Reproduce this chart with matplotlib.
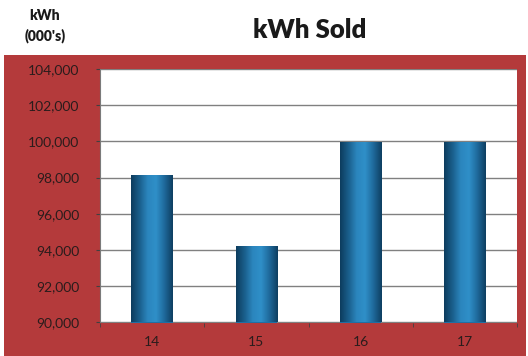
import matplotlib
matplotlib.use("Agg")
import matplotlib.pyplot as plt
import numpy as np
from matplotlib.colors import LinearSegmentedColormap
from matplotlib.patches import Rectangle

years = ["14", "15", "16", "17"]
kwh_sold = [98170, 94200, 99950, 99950]
y_ticks = [90000, 92000, 94000, 96000, 98000, 100000, 102000, 104000]

red = "#b43a3b"
text_col = "#2a1c1c"
plt.rcParams['font.family'] = ['Lato', 'DejaVu Sans']

fig = plt.figure(figsize=(5.28, 3.56), dpi=100)
fig.patch.set_facecolor("white")

# red frame behind the plot
fig.add_artist(Rectangle((4 / 528, 0), 522 / 528, (356 - 55) / 356,
                         transform=fig.transFigure, facecolor=red,
                         edgecolor="none", zorder=0))

ax = fig.add_axes([100 / 528, (356 - 322.5) / 356, 417 / 528, 253.5 / 356])
ax.set_facecolor("white")
ax.set_zorder(1)

ymin, ymax = 90000, 104000
x = np.arange(len(years))
bars = ax.bar(x, kwh_sold, width=0.4, color="#1f6fa3", zorder=3)

# cylinder shading
cmap = LinearSegmentedColormap.from_list(
    "cyl", ["#0d3d5e", "#1a5f8c", "#2b86be", "#2f8fc8", "#1f6a9c", "#0e3f62"])
grad = np.linspace(0, 1, 64).reshape(1, -1)
for b in bars:
    bx = b.get_x()
    im = ax.imshow(grad, cmap=cmap, aspect="auto", zorder=4,
                   extent=[bx, bx + b.get_width(), ymin, b.get_height()])
    im.set_clip_path(b)

ax.set_xlim(-0.5, len(years) - 0.5)
ax.set_ylim(ymin, ymax)
ax.set_yticks(y_ticks)
ax.set_yticklabels([f"{v:,}" for v in y_ticks])
ax.set_xticks(x)
ax.set_xticklabels(years)
ax.set_xticks(np.arange(len(years) + 1) - 0.5, minor=True)

ax.yaxis.grid(True, color="#808080", linewidth=1.0, zorder=0)
ax.set_axisbelow(True)
for s in ["top", "right", "bottom"]:
    ax.spines[s].set_visible(False)
ax.spines["left"].set_color("#7a7a7a")

ax.tick_params(axis="y", length=3, color="#404040", labelsize=10,
               labelcolor=text_col, pad=12)
ax.tick_params(axis="x", which="major", length=0, labelsize=10,
               labelcolor=text_col, pad=10)
ax.tick_params(axis="x", which="minor", length=3, color="#404040")

fig.text(310 / 528, 1 - 30 / 356, "kWh Sold", ha="center", va="center",
         fontsize=18.5, fontweight="heavy", color="#1a1a1a")
fig.text(45 / 528, 1 - 26 / 356, "kWh\n(000's)", ha="center", va="center",
         fontsize=10, fontweight="heavy", color="#1a1a1a", linespacing=1.5)

fig.savefig("out.png", dpi=100)
